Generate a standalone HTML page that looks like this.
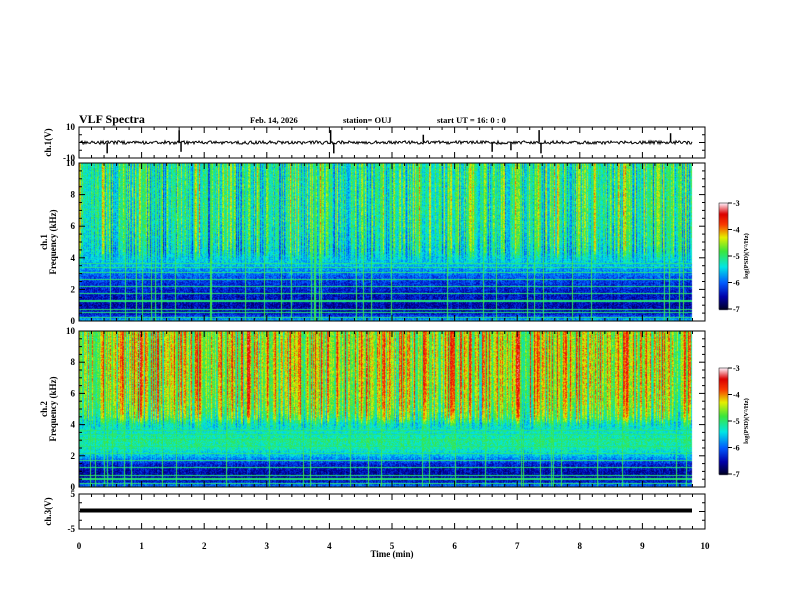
<!DOCTYPE html>
<html><head><meta charset="utf-8"><style>
body{margin:0;background:#fff;width:792px;height:612px;overflow:hidden;position:relative;font-family:"Liberation Serif",serif}
svg,canvas{position:absolute;left:0;top:0}
</style></head><body>
<canvas id="spec" width="792" height="612"></canvas>
<svg id="ax" width="792" height="612" font-family="Liberation Serif, serif" font-weight="bold">
<text x="79" y="123" font-size="12">VLF Spectra</text>
<text x="250" y="123" font-size="8.5">Feb. 14, 2026</text>
<text x="343" y="123" font-size="8.5">station= OUJ</text>
<text x="437" y="123" font-size="8.5">start  UT =   16: 0  : 0</text>
<text x="392" y="557" font-size="9" text-anchor="middle">Time  (min)</text>
</svg>
<script>
// ---- data ----
const xTicks=[0,1,2,3,4,5,6,7,8,9,10];
const freqBins=[0,0.5,1,1.5,2,2.5,3,3.5,4,4.5,5,6,7,8,9,10];
const ch1Profile=[-5.5,-6.4,-6.5,-6.4,-6.3,-6.2,-5.9,-5.6,-5.4,-5.25,-5.15,-5.05,-5.0,-5.0,-5.0,-5.0];
const ch2Profile=[-5.8,-6.5,-6.5,-6.3,-5.6,-5.2,-5.1,-5.3,-5.3,-4.8,-4.6,-4.45,-4.4,-4.35,-4.35,-4.4];
const bursts=[0.6,0.3,0.2,0.8,0.4,0.3,0.7,0.2,0.5,0.9,0.3,0.4,0.6,0.2,0.8,0.5,0.3,0.4,0.9,0.3,0.2,0.6,0.5,0.7,0.3,0.4,0.8,0.6,0.3,0.5,0.7,0.2,0.4,0.9,0.6,0.3,0.5,0.8,0.4,0.3,0.6,0.7,0.5,0.4,0.8,0.3,0.6,0.9,0.5,0.4,0.7,0.3,0.5,0.8,0.6,0.4,0.3,0.7,0.9,0.5,0.4,0.6,0.3,0.8,0.5,0.7,0.4,0.6,0.9,0.3,0.5,0.7,0.4,0.6,0.8,0.3,0.5,0.6,0.7,0.4,0.8,0.5,0.3,0.6,0.7,0.9,0.4,0.5,0.6,0.3,0.7,0.5,0.8,0.4,0.6,0.5,0.7,0.3];
const lineFreqs=[0.25,0.55,0.75,1.3,1.75,2.2,2.65,3.1,3.4,3.65];
const spikeTimes=[0.45,1.6,1.63,4.02,4.07,5.5,6.6,6.9,7.35,7.38,9.45];
const spikeVals=[-7,8,-6,8,-7,5,-6,-5,8,-7,6];
const ch3Level=0.3;
// ---- geometry ----
const X0=79,X1=705,XEND=692;
const sx=t=>X0+(X1-X0)*t/10;
const P1={t:127,b:158,hi:10,lo:-10};
const P2={t:163,b:321,hi:10,lo:0};
const P3={t:331,b:487,hi:10,lo:0};
const P4={t:494,b:529,hi:5,lo:-5};
const sy=(p,v)=>p.t+(p.b-p.t)*(p.hi-v)/(p.hi-p.lo);
function hash(a,b){let h=(a*374761393+b*668265263)|0;h=(h^(h>>>13))*1274126177|0;return ((h^(h>>>16))>>>0)/4294967295;}
function cmap(v){
 let s=Math.max(0,Math.min(1,(v+7)/4));
 const st=[[0,0,0,40],[0.12,0,0,170],[0.25,0,90,255],[0.4,0,230,230],[0.55,60,230,60],[0.68,230,240,0],[0.8,250,60,0],[0.9,220,0,0],[1,255,235,245]];
 for(let i=1;i<st.length;i++){if(s<=st[i][0]){const a=st[i-1],b=st[i],f=(s-a[0])/(b[0]-a[0]);return [a[1]+(b[1]-a[1])*f,a[2]+(b[2]-a[2])*f,a[3]+(b[3]-a[3])*f];}}
 return [255,235,245];
}
function prof(p,f){for(let i=1;i<freqBins.length;i++){if(f<=freqBins[i]){const k=(f-freqBins[i-1])/(freqBins[i]-freqBins[i-1]);return p[i-1]+(p[i]-p[i-1])*k;}}return p[p.length-1];}
const cv=document.getElementById('spec'),ctx=cv.getContext('2d');
function drawSpec(P,profile,seed,amp){
 const w=XEND-X0,h=P.b-P.t;const img=ctx.createImageData(w,h);
 for(let x=0;x<w;x++){
  const t=x/(X1-X0)*10;const bi=Math.min(bursts.length-1,Math.floor(t/10*bursts.length));
  const colN=hash(x,seed);
  const colEff=((colN-0.5)*1.6+(bursts[bi]-0.5)*0.8)*amp;
  for(let y=0;y<h;y++){
   const f=10*(1-y/h);
   let v=prof(profile,f)+(hash(x*7+y,y*13+seed)-0.5)*0.6;
   const wgt=f>4.5?1:(f>3.5?(f-3.5):0.15);
   v+=colEff*wgt;
   if(colN>0.95) v=-4.9+(hash(y,x)-0.5)*0.4;
   for(const lf of lineFreqs){if(Math.abs(f-lf)<0.04) v=Math.max(v,-5.0);}
   const c=cmap(v);const i=(y*w+x)*4;img.data[i]=c[0];img.data[i+1]=c[1];img.data[i+2]=c[2];img.data[i+3]=255;
  }
 }
 ctx.putImageData(img,X0,P.t);
}
drawSpec(P2,ch1Profile,11,1.0);
drawSpec(P3,ch2Profile,29,1.0);
function cbar(top,bot){for(let y=top;y<=bot;y++){const v=-3-4*(y-top)/(bot-top);const c=cmap(v);ctx.fillStyle=`rgb(${c[0]|0},${c[1]|0},${c[2]|0})`;ctx.fillRect(719,y,9,1);}}
cbar(203,309);cbar(368,474);
// ---- SVG axes ----
const svg=document.getElementById('ax');const NS='http://www.w3.org/2000/svg';
function el(tag,attrs,txt){const e=document.createElementNS(NS,tag);for(const k in attrs)e.setAttribute(k,attrs[k]);if(txt!==undefined)e.textContent=txt;svg.appendChild(e);return e;}
function panel(P,name,yt,ylab){
 const r=el('rect',{x:X0,y:P.t,width:X1-X0,height:P.b-P.t,fill:'none',stroke:'#000','stroke-width':1});
 
 
 for(let k=0;k<=50;k++){const x=sx(k/5);const L=k%5==0?6:3;
  el('line',{x1:x,y1:P.t,x2:x,y2:P.t+L,stroke:'#000'});el('line',{x1:x,y1:P.b,x2:x,y2:P.b-L,stroke:'#000'});}
 yt.forEach(([v,lab,maj])=>{const y=sy(P,v);const L=maj?6:3;
  el('line',{x1:X0,y1:y,x2:X0+L,y2:y,stroke:'#000'});el('line',{x1:X1,y1:y,x2:X1-L,y2:y,stroke:'#000'});
  if(lab!==null){const t=el('text',{x:X0-4,y:y+3,'font-size':9,'text-anchor':'end'},lab);
   
   }});
 ylab.forEach(([txt,x])=>{const cy=(P.t+P.b)/2;const t=el('text',{x:x,y:cy,'font-size':9,'text-anchor':'middle',transform:`rotate(-90 ${x} ${cy})`},txt);
  
  });
}
panel(P1,'ch1-wave',[[10,'10',1],[5,null,0],[0,null,1],[-5,null,0],[-10,'-10',1]],[['ch.1(V)',51]]);
const ft=[];for(let v=0;v<=10;v+=0.5)ft.push([v,v%2==0?String(v):null,v%2==0]);
panel(P2,'ch1-spec',ft,[['ch.1',47],['Frequency  (kHz)',56]]);
panel(P3,'ch2-spec',ft,[['ch.2',47],['Frequency  (kHz)',56]]);
panel(P4,'ch3-wave',[[5,'5',1],[2.5,null,0],[0,null,1],[-2.5,null,0],[-5,'-5',1]],[['ch.3(V)',51]]);
xTicks.forEach(t=>{const e=el('text',{x:sx(t),y:549,'font-size':9,'text-anchor':'middle'},String(t));
 
 });
let d='';for(let x=X0+1;x<=XEND;x++){const v=(hash(x,3)-0.5)*2.2;d+=(d?'L':'M')+x+' '+sy(P1,v).toFixed(1);}
const w=el('path',{d:d,stroke:'#000','stroke-width':1,fill:'none'});


spikeTimes.forEach((t,i)=>{const s=el('line',{x1:sx(t),x2:sx(t),y1:sy(P1,0),y2:sy(P1,spikeVals[i]),stroke:'#000','stroke-width':1.5});
 
 });
const c3=el('line',{x1:X0+1,x2:XEND,y1:sy(P4,ch3Level),y2:sy(P4,ch3Level),stroke:'#000','stroke-width':4});


function cbAxis(top,bot,n){
 const r=el('rect',{x:719,y:top,width:9,height:bot-top,fill:'none',stroke:'#000','stroke-width':0.5});
 
 
 for(let k=0;k<=4;k++){const y=top+(bot-top)*k/4;el('line',{x1:728,x2:732,y1:y,y2:y,stroke:'#000'});
  const t=el('text',{x:733,y:y+3,'font-size':8},String(-3-k));
  
  }
 const cy=(top+bot)/2;const t=el('text',{x:748,y:cy,'font-size':6.5,'text-anchor':'middle',transform:`rotate(-90 748 ${cy})`},'log(PSD)(V²/Hz)');
 
 
}
cbAxis(203,309,1);cbAxis(368,474,2);
</script>
</body></html>
